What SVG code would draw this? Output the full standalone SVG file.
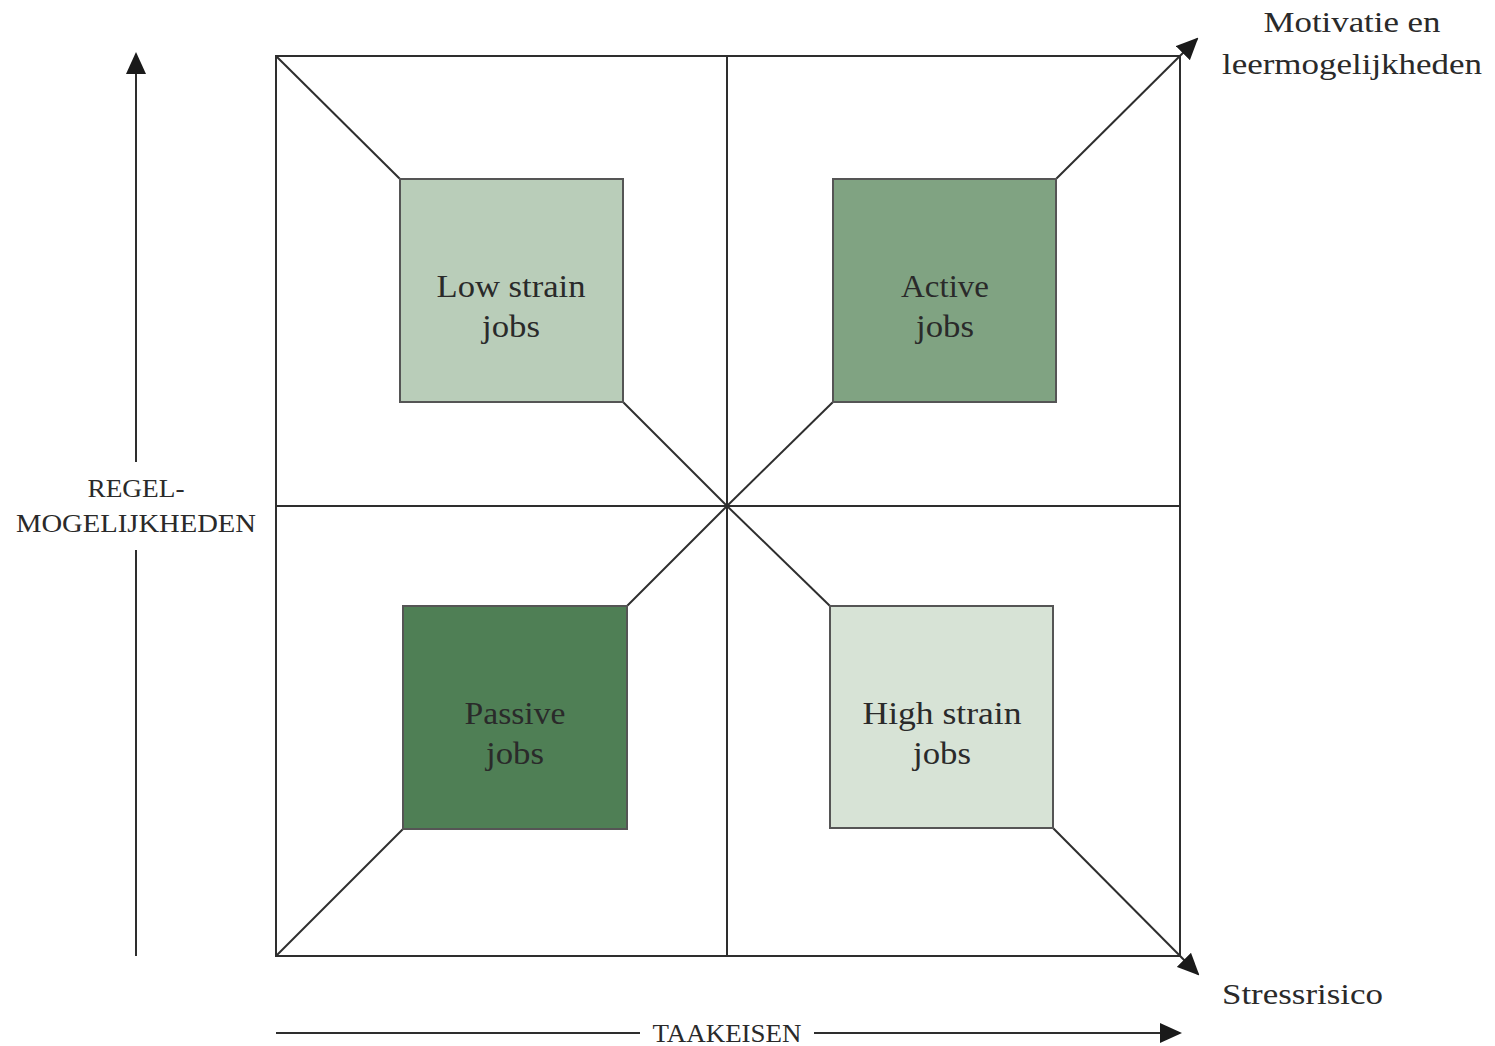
<svg xmlns="http://www.w3.org/2000/svg" width="1495" height="1046" viewBox="0 0 1495 1046">
<defs>
<style>
.ln{stroke:#2e2e2e;stroke-width:2;fill:none}
.box{stroke:#555;stroke-width:2}
.t{font-family:"Liberation Serif","DejaVu Serif",serif;fill:#2a2a2a;text-anchor:middle}
.lbl{font-size:31px}
.ax{font-size:25px}
</style>
<marker id="arr" viewBox="0 0 22 20" refX="20" refY="10" markerWidth="22" markerHeight="20" markerUnits="userSpaceOnUse" orient="auto">
<path d="M0,0 L22,10 L0,20 Z" fill="#1a1a1a"/>
</marker>
</defs>
<rect width="1495" height="1046" fill="#fff"/>
<g id="connectors">
<rect class="ln" x="276" y="56" width="904" height="900"/>
<line class="ln" x1="727" y1="56" x2="727" y2="956"/>
<line class="ln" x1="276" y1="506" x2="1180" y2="506"/>
<line class="ln" x1="276" y1="56" x2="400" y2="179"/>
<line class="ln" x1="623" y1="402" x2="727" y2="506"/>
<line class="ln" x1="727" y1="506" x2="833" y2="402"/>
<line class="ln" x1="1056" y1="179" x2="1197" y2="39" marker-end="url(#arr)"/>
<line class="ln" x1="276" y1="956" x2="403" y2="829"/>
<line class="ln" x1="627" y1="606" x2="727" y2="506"/>
<line class="ln" x1="727" y1="506" x2="830" y2="606"/>
<line class="ln" x1="1053" y1="828" x2="1198" y2="974" marker-end="url(#arr)"/>
<line class="ln" x1="136" y1="956" x2="136" y2="550"/>
<line class="ln" x1="136" y1="462" x2="136" y2="54" marker-end="url(#arr)"/>
<line class="ln" x1="276" y1="1033" x2="640" y2="1033"/>
<line class="ln" x1="814" y1="1033" x2="1180" y2="1033" marker-end="url(#arr)"/>
</g>
<g id="low-strain">
<rect class="box" x="400" y="179" width="223" height="223" fill="#b9cdb9"/>
<text class="t lbl" x="511" y="297" textLength="149" lengthAdjust="spacingAndGlyphs">Low strain</text>
<text class="t lbl" x="511" y="337" textLength="58" lengthAdjust="spacingAndGlyphs">jobs</text>
</g>
<g id="active">
<rect class="box" x="833" y="179" width="223" height="223" fill="#80a382"/>
<text class="t lbl" x="945" y="297" textLength="88" lengthAdjust="spacingAndGlyphs">Active</text>
<text class="t lbl" x="945" y="337" textLength="58" lengthAdjust="spacingAndGlyphs">jobs</text>
</g>
<g id="passive">
<rect class="box" x="403" y="606" width="224" height="223" fill="#4f7f55"/>
<text class="t lbl" x="515" y="724" textLength="101" lengthAdjust="spacingAndGlyphs">Passive</text>
<text class="t lbl" x="515" y="764" textLength="58" lengthAdjust="spacingAndGlyphs">jobs</text>
</g>
<g id="high-strain">
<rect class="box" x="830" y="606" width="223" height="222" fill="#d7e3d6"/>
<text class="t lbl" x="942" y="724" textLength="159" lengthAdjust="spacingAndGlyphs">High strain</text>
<text class="t lbl" x="942" y="764" textLength="58" lengthAdjust="spacingAndGlyphs">jobs</text>
</g>
<g id="labels">
<text class="t" style="font-size:30px" x="1352" y="32" textLength="177" lengthAdjust="spacingAndGlyphs">Motivatie en</text>
<text class="t" style="font-size:30px" x="1352" y="74" textLength="260" lengthAdjust="spacingAndGlyphs">leermogelijkheden</text>
<text class="t" style="font-size:29px;text-anchor:start" x="1222" y="1004" textLength="161" lengthAdjust="spacingAndGlyphs">Stressrisico</text>
<text class="t ax" x="136" y="497" textLength="97" lengthAdjust="spacingAndGlyphs">REGEL-</text>
<text class="t ax" x="136" y="532" textLength="240" lengthAdjust="spacingAndGlyphs">MOGELIJKHEDEN</text>
<text class="t ax" x="727" y="1042" textLength="149" lengthAdjust="spacingAndGlyphs">TAAKEISEN</text>
</g>
</svg>
